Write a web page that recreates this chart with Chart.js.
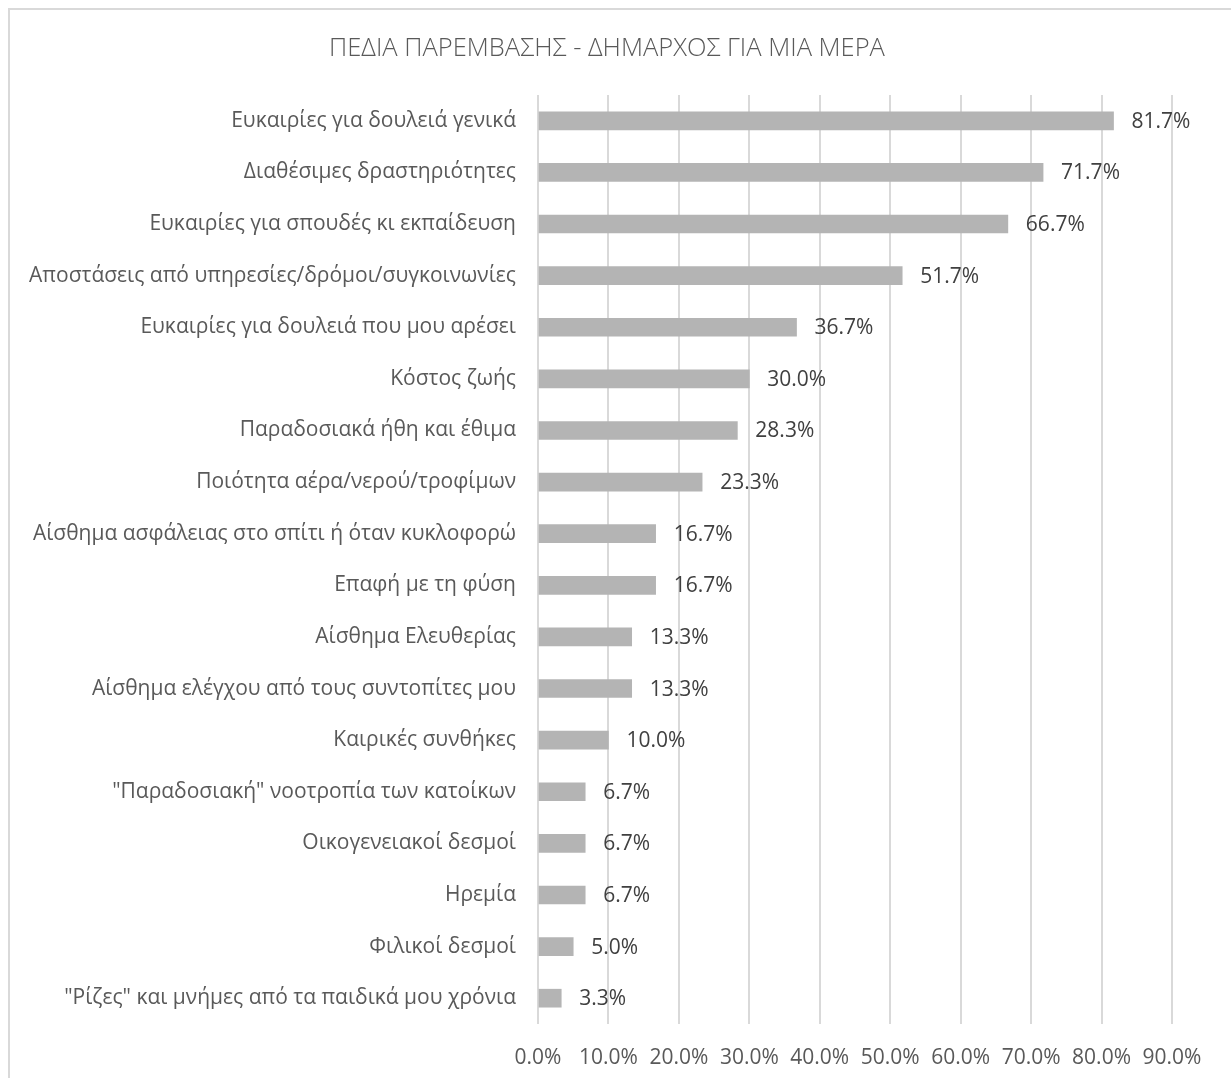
<!DOCTYPE html>
<html>
<head>
<meta charset="utf-8">
<script src="https://cdn.jsdelivr.net/npm/chart.js@4.4.1/dist/chart.umd.min.js"></script>
<style>
    body { margin: 0; background: #fff; overflow: hidden; }
    #frame {
        position: absolute; left: 8px; top: 8px; width: 1300px; height: 1200px;
        border-left: 2px solid #d9d9d9; border-top: 2px solid #d9d9d9;
    }
    #wrap { position: absolute; left: 0; top: 0; width: 1231px; height: 1078px; }
</style>
</head>
<body>
<div id="frame"></div>
<div id="wrap"><canvas id="myChart" width="1231" height="1078"></canvas></div>
<script>
const categories = [
    "Ευκαιρίες για δουλειά γενικά",
    "Διαθέσιμες δραστηριότητες",
    "Ευκαιρίες για σπουδές κι εκπαίδευση",
    "Αποστάσεις από υπηρεσίες/δρόμοι/συγκοινωνίες",
    "Ευκαιρίες για δουλειά που μου αρέσει",
    "Κόστος ζωής",
    "Παραδοσιακά ήθη και έθιμα",
    "Ποιότητα αέρα/νερού/τροφίμων",
    "Αίσθημα ασφάλειας στο σπίτι ή όταν κυκλοφορώ",
    "Επαφή με τη φύση",
    "Αίσθημα Ελευθερίας",
    "Αίσθημα ελέγχου από τους συντοπίτες μου",
    "Καιρικές συνθήκες",
    "\"Παραδοσιακή\" νοοτροπία των κατοίκων",
    "Οικογενειακοί δεσμοί",
    "Ηρεμία",
    "Φιλικοί δεσμοί",
    "\"Ρίζες\" και μνήμες από τα παιδικά μου χρόνια"
]
const percentages = [81.7, 71.7, 66.7, 51.7, 36.7, 30.0, 28.3, 23.3, 16.7, 16.7, 13.3, 13.3, 10.0, 6.7, 6.7, 6.7, 5.0, 3.3]
const xTicks = [0, 10, 20, 30, 40, 50, 60, 70, 80, 90]
const chartTitle = "ΠΕΔΙΑ ΠΑΡΕΜΒΑΣΗΣ - ΔΗΜΑΡΧΟΣ ΓΙΑ ΜΙΑ ΜΕΡΑ"

const fontFamily = "'Open Sans', sans-serif"

// value labels after each bar, plus the title line above the plot
const barValues = {
    id: 'barValues',
    afterDatasetsDraw(chart) {
        const ctx = chart.ctx
        const meta = chart.getDatasetMeta(0)
        ctx.save()
        ctx.font = "21px " + fontFamily
        ctx.fillStyle = "#404040"
        ctx.textAlign = "left"
        ctx.textBaseline = "middle"
        meta.data.forEach((bar, i) => {
            ctx.fillText(percentages[i].toFixed(1) + "%", bar.x + 18, bar.y + 1)
        })

        ctx.font = "300 25.5px " + fontFamily
        ctx.fillStyle = "#595959"
        ctx.textAlign = "center"
        ctx.fillText(chartTitle, 607, 49)
        ctx.restore()
    }
}

const ctx = document.getElementById('myChart').getContext('2d')
const myChart = new Chart(ctx, {
    type: 'bar',
    data: {
        labels: categories,
        datasets: [{
            data: percentages,
            backgroundColor: "#b4b4b4",
            barThickness: 18
        }]
    },
    options: {
        indexAxis: 'y',
        responsive: false,
        animation: false,
        layout: { padding: { top: 95, right: 59, left: 0, bottom: 0 } },
        plugins: {
            legend: { display: false },
            tooltip: { enabled: false },
            title: { display: false }
        },
        scales: {
            x: {
                min: 0,
                max: 90,
                afterBuildTicks: scale => { scale.ticks = xTicks.map(v => ({ value: v })) },
                afterFit: scale => { scale.height = 54 },
                grid: { color: "#d9d9d9", lineWidth: 2, drawTicks: false },
                border: { display: false },
                ticks: {
                    padding: 21,
                    color: "#595959",
                    font: { family: fontFamily, size: 21 },
                    callback: v => v.toFixed(1) + "%"
                }
            },
            y: {
                afterFit: scale => { scale.width = 538 },
                grid: { display: false, drawTicks: false },
                border: { display: false },
                ticks: {
                    padding: 22,
                    color: "#595959",
                    font: { family: fontFamily, size: 21 }
                }
            }
        }
    },
    plugins: [barValues]
})
</script>
</body>
</html>
